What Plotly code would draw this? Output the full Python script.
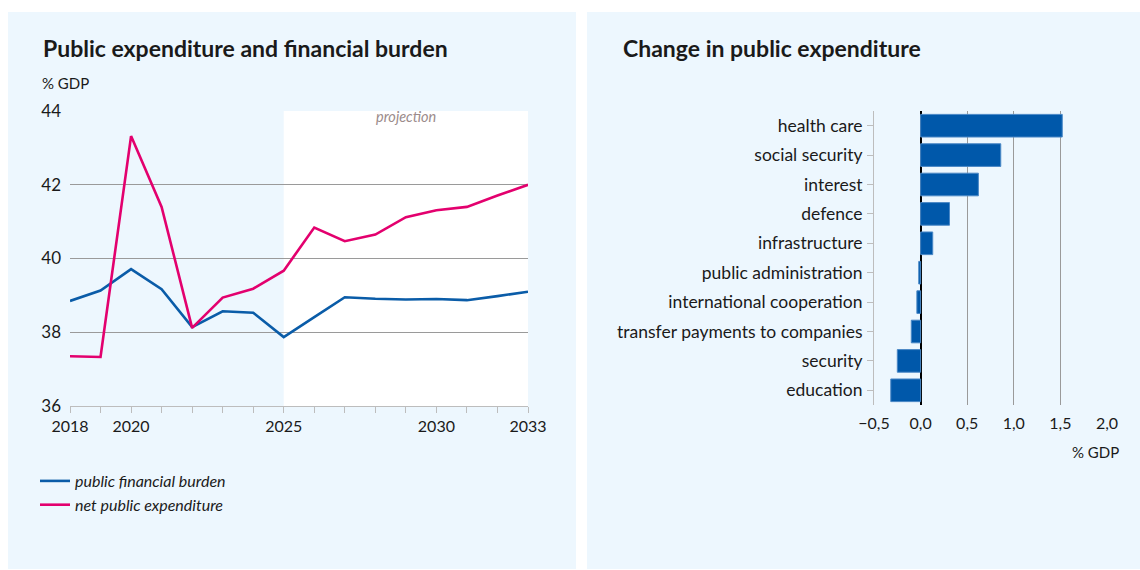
import plotly.graph_objects as go

W, H = 1140, 570

years = list(range(2018, 2034))
financial_burden = [38.85, 39.13, 39.71, 39.17, 38.14, 38.57, 38.53, 37.87,
                    38.41, 38.95, 38.91, 38.89, 38.90, 38.87, 38.98, 39.10]
net_expenditure = [37.35, 37.33, 43.32, 41.40, 38.12, 38.94, 39.18, 39.67,
                   40.84, 40.47, 40.65, 41.12, 41.31, 41.40, 41.71, 42.00]
year_labels = {2018: "2018", 2020: "2020", 2025: "2025", 2030: "2030", 2033: "2033"}

categories = ["health care", "social security", "interest", "defence",
              "infrastructure", "public administration", "international cooperation",
              "transfer payments to companies", "security", "education"]
changes = [1.52, 0.86, 0.62, 0.31, 0.13, -0.02, -0.04, -0.10, -0.25, -0.32]

BLUE = "#0a5ca8"
PINK = "#e3006e"
PANEL = "#edf7fe"
TEXT = "#1a1a1a"
GRID = "#9a9a9a"
AXIS = "#bdbdbd"
FONT = "Lato"


def px(x):
    return x / W


def py(y):
    return 1 - y / H


fig = go.Figure()

fig.add_trace(go.Scatter(
    x=years, y=financial_burden, mode="lines", name="public financial burden",
    line=dict(color=BLUE, width=2.6), xaxis="x", yaxis="y"))
fig.add_trace(go.Scatter(
    x=years, y=net_expenditure, mode="lines", name="net public expenditure",
    line=dict(color=PINK, width=2.6), xaxis="x", yaxis="y"))

fig.add_trace(go.Bar(
    x=changes, y=categories, orientation="h", width=0.77,
    marker=dict(color="#0058aa", line=dict(color="#4a88c6", width=1)),
    showlegend=False, xaxis="x2", yaxis="y2"))

shapes = [
    dict(type="rect", xref="paper", yref="paper", x0=px(8), x1=px(576),
         y0=py(569), y1=py(12), fillcolor=PANEL, line=dict(width=0), layer="below"),
    dict(type="rect", xref="paper", yref="paper", x0=px(587), x1=px(1140),
         y0=py(569), y1=py(12), fillcolor=PANEL, line=dict(width=0), layer="below"),
    dict(type="rect", xref="x", yref="y", x0=2025, x1=2033, y0=36, y1=44,
         fillcolor="white", line=dict(width=0), layer="below"),
]

annotations = [
    dict(text="<b>Public expenditure and financial burden</b>", xref="paper", yref="paper",
         x=px(41), y=py(48), xanchor="left", yanchor="middle", showarrow=False,
         font=dict(family=FONT, size=23, color=TEXT)),
    dict(text="<b>Change in public expenditure</b>", xref="paper", yref="paper",
         x=px(621), y=py(48), xanchor="left", yanchor="middle", showarrow=False,
         font=dict(family=FONT, size=23, color=TEXT)),
    dict(text="% GDP", xref="paper", yref="paper", x=px(40), y=py(83),
         xanchor="left", yanchor="middle", showarrow=False,
         font=dict(family=FONT, size=15, color=TEXT)),
    dict(text="projection", xref="x", yref="paper", x=2029.0, y=py(117),
         xanchor="center", yanchor="middle", showarrow=False,
         font=dict(family=FONT, size=14.5, color="#9b8b8b", style="italic")),
    dict(text="% GDP", xref="paper", yref="paper", x=px(1121), y=py(452),
         xanchor="right", yanchor="middle", showarrow=False,
         font=dict(family=FONT, size=15, color=TEXT)),
]

fig.update_layout(
    width=W, height=H,
    margin=dict(l=0, r=0, t=0, b=0, autoexpand=False),
    paper_bgcolor="white", plot_bgcolor="rgba(0,0,0,0)",
    separators=",.",
    font=dict(family=FONT, size=15, color=TEXT),
    shapes=shapes, annotations=annotations,
    showlegend=True,
    legend=dict(x=px(35), y=py(464), xanchor="left", yanchor="top",
                bgcolor="rgba(0,0,0,0)", itemwidth=30, tracegroupgap=0,
                font=dict(family=FONT, size=16, color=TEXT, style="italic")),
    xaxis=dict(domain=[px(70), px(528)], range=[2018, 2033], anchor="y",
               automargin=False,
               tickvals=years, ticktext=[year_labels.get(y, "") for y in years],
               ticks="outside", ticklen=6, tickcolor=AXIS, showgrid=False,
               showline=True, linecolor=AXIS, linewidth=1, zeroline=False,
               tickfont=dict(size=16)),
    yaxis=dict(domain=[py(406), py(111)], range=[36, 44], anchor="x",
               automargin=False,
               tickvals=[36, 38, 40, 42, 44], showgrid=True, gridcolor=GRID,
               gridwidth=1, zeroline=False, ticks="", ticklabelstandoff=8,
               tickfont=dict(size=17)),
    xaxis2=dict(domain=[px(874), px(1107)], range=[-0.5, 2.0], anchor="y2",
                automargin=False,
                tickvals=[-0.5, 0, 0.5, 1.0, 1.5, 2.0], tickformat=".1f",
                showgrid=True, gridcolor=GRID, gridwidth=1,
                zeroline=True, zerolinecolor="black", zerolinewidth=2,
                showline=False, ticks="", ticklabelstandoff=7,
                tickfont=dict(size=16)),
    yaxis2=dict(domain=[py(405), py(111)], anchor="x2", type="category",
                automargin=False,
                categoryorder="array", categoryarray=categories,
                autorange="reversed", ticks="outside", ticklen=6, tickcolor=AXIS,
                showline=True, linecolor=AXIS, linewidth=1, showgrid=False,
                ticklabelstandoff=1, tickfont=dict(size=17.5)),
)

fig.write_html("out.html")
